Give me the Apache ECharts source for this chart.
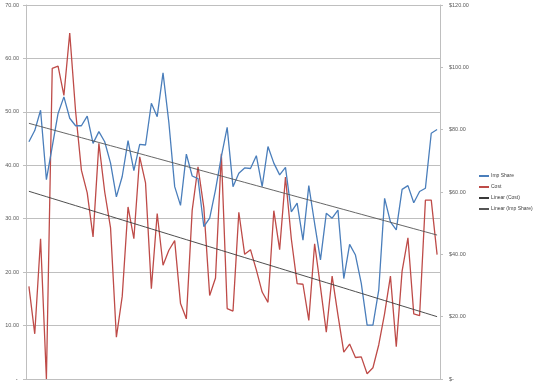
<!DOCTYPE html>
<html>
<head>
<meta charset="utf-8">
<script src="https://cdn.jsdelivr.net/npm/echarts@6/dist/echarts.min.js"></script>
<style>html,body{margin:0;padding:0;background:#fff}#c{width:540px;height:385px}</style>
</head>
<body>
<div id="c"></div>
<script>
const impShare = [44.4,46.5,50.3,37.3,43.5,49.7,52.8,48.8,47.4,47.4,
  49.2,44.1,46.3,44.4,40.4,34.1,37.9,44.6,39.0,43.9,
  43.8,51.6,49.1,57.3,48.0,36.0,32.5,42.1,38.0,37.5,
  28.5,30.1,35.4,41.6,47.1,36.0,38.5,39.5,39.4,41.8,
  36.0,43.5,40.4,38.2,39.6,31.3,32.9,26.0,36.2,29.1,
  22.3,31.0,30.1,31.6,18.8,25.2,23.2,17.9,10.1,10.1,
  16.7,33.8,29.4,27.9,35.5,36.2,33.0,35.1,35.7,46.0,46.7];
const cost = [29.7,14.5,45.0,0,99.7,100.4,91,111,86,67,
  59.7,45.6,75.6,60,48.5,13.4,26.5,55.2,45.0,71.3,
  62.9,29.0,53.1,36.5,41.3,44.4,24.2,19.3,54.1,68.1,
  55.0,26.8,32.4,72.3,22.6,21.8,53.5,40,41.5,35,
  27.9,24.6,54,41.5,64.8,45,30.6,30.4,18.8,43.4,
  29.5,15.0,33.0,20.5,8.6,11.2,6.9,7.1,1.7,3.6,
  11,21,33,10.4,34.6,45.3,20.9,20.3,57.4,57.4,39.9];
const categories = impShare.map((_, i) => String(i + 1));
const leftTickLabels = ['- ', '10.00', '20.00', '30.00', '40.00', '50.00', '60.00', '70.00'];
const rightTickLabels = ['$-', '$20.00', '$40.00', '$60.00', '$80.00', '$100.00', '$120.00'];
const seriesNames = ['Imp Share', 'Cost', 'Linear (Cost)', 'Linear (Imp Share)'];

function linearFit(arr) {
  const n = arr.length;
  let sx = 0, sy = 0, sxx = 0, sxy = 0;
  arr.forEach((y, i) => { const x = i + 1; sx += x; sy += y; sxx += x * x; sxy += x * y; });
  const b = (n * sxy - sx * sy) / (n * sxx - sx * sx);
  const a = (sy - b * sx) / n;
  return arr.map((_, i) => +(a + b * (i + 1)).toFixed(3));
}
const costTrend = linearFit(cost);
const impTrend = linearFit(impShare);

const chart = echarts.init(document.getElementById('c'), null, {renderer: 'canvas'});
const font = 'Liberation Sans, Arial, sans-serif';
chart.setOption({
  animation: false,
  backgroundColor: '#fff',
  grid: {left: 26, right: 100, top: 5, bottom: 6, containLabel: false},
  legend: {
    orient: 'vertical', left: 478, top: 173, padding: 0,
    itemWidth: 10, itemHeight: 6, itemGap: 5,
    data: seriesNames,
    itemStyle: {opacity: 0},
    textStyle: {fontFamily: font, fontSize: 5, color: '#404040', lineHeight: 6, padding: [0, 0, 0, -3]}
  },
  xAxis: {
    type: 'category', data: categories, boundaryGap: true,
    axisLine: {show: true, lineStyle: {color: '#bfbfbf', width: 1}},
    axisTick: {show: false}, axisLabel: {show: false}, splitLine: {show: false}
  },
  yAxis: [{
    type: 'value', min: 0, max: 70, interval: 10, position: 'left',
    axisLine: {show: true, lineStyle: {color: '#bfbfbf', width: 1}},
    axisTick: {show: true, length: 3, lineStyle: {color: '#bfbfbf'}},
    splitLine: {show: true, lineStyle: {color: '#bfbfbf', width: 1}},
    axisLabel: {fontFamily: font, fontSize: 5.5, color: '#595959', margin: 7,
      formatter: v => leftTickLabels[Math.round(v / 10)]}
  }, {
    type: 'value', min: 0, max: 120, interval: 20, position: 'right',
    axisLine: {show: true, lineStyle: {color: '#bfbfbf', width: 1}},
    axisTick: {show: true, length: 3, lineStyle: {color: '#bfbfbf'}},
    splitLine: {show: false},
    axisLabel: {fontFamily: font, fontSize: 5.5, color: '#595959', margin: 9,
      formatter: v => rightTickLabels[Math.round(v / 20)]}
  }],
  series: [{
    name: seriesNames[0], type: 'line', yAxisIndex: 0, data: impShare,
    symbol: 'none', lineStyle: {color: '#4a7ebb', width: 1.3}, itemStyle: {color: '#4a7ebb'}, z: 3
  }, {
    name: seriesNames[1], type: 'line', yAxisIndex: 1, data: cost,
    symbol: 'none', lineStyle: {color: '#be4b48', width: 1.3}, itemStyle: {color: '#be4b48'}, z: 2
  }, {
    name: seriesNames[2], type: 'line', yAxisIndex: 1, data: costTrend,
    symbol: 'none', lineStyle: {color: '#3a3a3a', width: 0.9}, itemStyle: {color: '#3a3a3a'}, z: 4
  }, {
    name: seriesNames[3], type: 'line', yAxisIndex: 0, data: impTrend,
    symbol: 'none', lineStyle: {color: '#555555', width: 0.9}, itemStyle: {color: '#555555'}, z: 4
  }]
});
</script>
</body>
</html>
